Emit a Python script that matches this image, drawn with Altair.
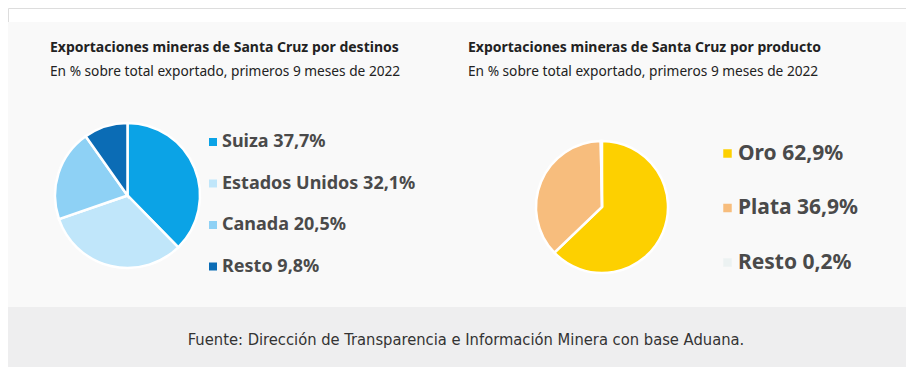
import altair as alt
import pandas as pd

# --- data ---
dest_names = ["Suiza", "Estados Unidos", "Canada", "Resto"]
dest_values = [37.7, 32.1, 20.5, 9.8]
dest_colors = ["#0ba3e6", "#c0e6fa", "#8ed1f5", "#0b6cb5"]

prod_names = ["Oro", "Plata", "Resto"]
prod_values = [62.9, 36.9, 0.2]
prod_colors = ["#fdd000", "#f7bd7d", "#ecf2f2"]

title_left = "Exportaciones mineras de Santa Cruz por destinos"
title_right = "Exportaciones mineras de Santa Cruz por producto"
subtitle = "En % sobre total exportado, primeros 9 meses de 2022"
footer = "Fuente: Dirección de Transparencia e Información Minera con base Aduana."


def fmt(v):
    return f"{v:.1f}".replace(".", ",") + "%"


dest_df = pd.DataFrame({
    "label": [f"{n} {fmt(v)}" for n, v in zip(dest_names, dest_values)],
    "value": dest_values,
    "order": list(range(len(dest_values))),
})
prod_df = pd.DataFrame({
    "label": [f"{n} {fmt(v)}" for n, v in zip(prod_names, prod_values)],
    "value": prod_values,
    "order": list(range(len(prod_values))),
})

W, H = 898, 359
one = pd.DataFrame({"a": [0]})

bg = alt.Chart(one).mark_rect(color="#f9f9f9").encode(
    x=alt.value(-8), x2=alt.value(W + 8), y=alt.value(14), y2=alt.value(299))
foot_bg = alt.Chart(one).mark_rect(color="#eeeeef").encode(
    x=alt.value(-8), x2=alt.value(W + 8), y=alt.value(299), y2=alt.value(362))


def txt(s, x, y, size, weight="normal", color="#222222", align="left", font="Noto Sans"):
    return alt.Chart(pd.DataFrame({"t": [s]})).mark_text(
        align=align, baseline="middle", fontSize=size, fontWeight=weight,
        color=color, font=font).encode(text="t:N", x=alt.value(x), y=alt.value(y))


pie_left = alt.Chart(dest_df).mark_arc(
    radius=72.5, stroke="white", strokeWidth=2.5).encode(
    theta=alt.Theta("value:Q", stack=True),
    order=alt.Order("order:Q"),
    color=alt.Color("label:N",
                    scale=alt.Scale(domain=list(dest_df["label"]), range=dest_colors),
                    legend=alt.Legend(title=None, orient="none", legendX=196, legendY=125,
                                      symbolType="square", symbolSize=64, symbolStrokeWidth=0,
                                      labelFontSize=18, labelFontWeight="bold",
                                      labelColor="#4a4a4a", labelFont="Noto Sans",
                                      labelOffset=0, rowPadding=23.5, padding=0,
                                      labelLimit=400)),
    x=alt.value(119.5), y=alt.value(187.5))

pie_right = alt.Chart(prod_df).mark_arc(
    radius=66, stroke="white", strokeWidth=2.5).encode(
    theta=alt.Theta("value:Q", stack=True),
    order=alt.Order("order:Q"),
    color=alt.Color("label:N",
                    scale=alt.Scale(domain=list(prod_df["label"]), range=prod_colors),
                    legend=alt.Legend(title=None, orient="none", legendX=709, legendY=135,
                                      symbolType="square", symbolSize=72, symbolStrokeWidth=0,
                                      labelFontSize=21, labelFontWeight="bold",
                                      labelColor="#4a4a4a", labelFont="Noto Sans",
                                      labelOffset=0, rowPadding=32.5, padding=0,
                                      labelLimit=400)),
    x=alt.value(594), y=alt.value(199))

chart = alt.layer(
    bg, foot_bg,
    txt(title_left, 42, 40, 14, "bold"),
    txt(subtitle, 42, 64, 13.7),
    txt(title_right, 460, 40, 14, "bold"),
    txt(subtitle, 460, 64, 13.7),
    pie_left, pie_right,
    txt(footer, 458, 332, 16.4, color="#333333", align="center", font="DejaVu Sans Condensed"),
).resolve_scale(color="independent").properties(
    width=W, height=H, padding=0, autosize=alt.AutoSizeParams(type="none")
).configure_view(stroke=None).configure(background="white")

chart.save("out.html", embed_options={"renderer": "svg", "actions": False})
